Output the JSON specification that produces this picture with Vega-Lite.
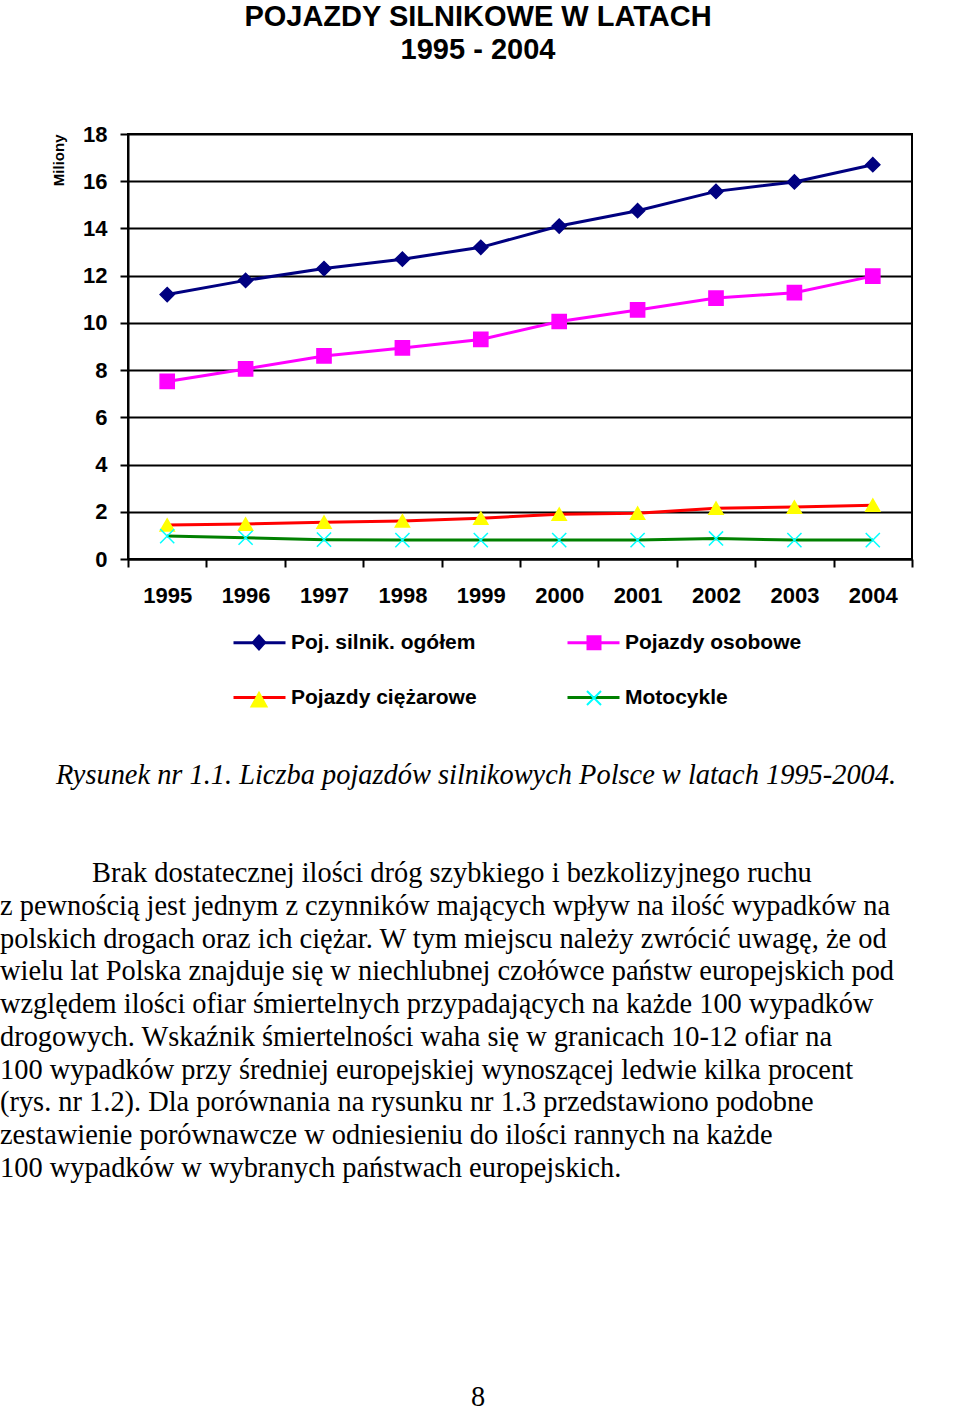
{
  "$schema": "https://vega.github.io/schema/vega-lite/v6.json",
  "padding": {"left": 0, "right": 0, "top": 2, "bottom": 0},
  "background": "white",
  "config": {"view": {"stroke": null}, "font": "Liberation Sans"},
  "spacing": 49,
  "datasets": {
    "vehicles": [
      {"year": 1995, "series": "Poj. silnik. ogółem", "value": 11.2},
      {"year": 1996, "series": "Poj. silnik. ogółem", "value": 11.8},
      {"year": 1997, "series": "Poj. silnik. ogółem", "value": 12.3},
      {"year": 1998, "series": "Poj. silnik. ogółem", "value": 12.7},
      {"year": 1999, "series": "Poj. silnik. ogółem", "value": 13.2},
      {"year": 2000, "series": "Poj. silnik. ogółem", "value": 14.1},
      {"year": 2001, "series": "Poj. silnik. ogółem", "value": 14.75},
      {"year": 2002, "series": "Poj. silnik. ogółem", "value": 15.57},
      {"year": 2003, "series": "Poj. silnik. ogółem", "value": 15.97},
      {"year": 2004, "series": "Poj. silnik. ogółem", "value": 16.7},
      {"year": 1995, "series": "Pojazdy osobowe", "value": 7.52},
      {"year": 1996, "series": "Pojazdy osobowe", "value": 8.05},
      {"year": 1997, "series": "Pojazdy osobowe", "value": 8.6},
      {"year": 1998, "series": "Pojazdy osobowe", "value": 8.94},
      {"year": 1999, "series": "Pojazdy osobowe", "value": 9.3},
      {"year": 2000, "series": "Pojazdy osobowe", "value": 10.06},
      {"year": 2001, "series": "Pojazdy osobowe", "value": 10.55},
      {"year": 2002, "series": "Pojazdy osobowe", "value": 11.05},
      {"year": 2003, "series": "Pojazdy osobowe", "value": 11.28},
      {"year": 2004, "series": "Pojazdy osobowe", "value": 11.98},
      {"year": 1995, "series": "Pojazdy ciężarowe", "value": 1.44},
      {"year": 1996, "series": "Pojazdy ciężarowe", "value": 1.48},
      {"year": 1997, "series": "Pojazdy ciężarowe", "value": 1.56},
      {"year": 1998, "series": "Pojazdy ciężarowe", "value": 1.61},
      {"year": 1999, "series": "Pojazdy ciężarowe", "value": 1.73},
      {"year": 2000, "series": "Pojazdy ciężarowe", "value": 1.9},
      {"year": 2001, "series": "Pojazdy ciężarowe", "value": 1.94},
      {"year": 2002, "series": "Pojazdy ciężarowe", "value": 2.15},
      {"year": 2003, "series": "Pojazdy ciężarowe", "value": 2.2},
      {"year": 2004, "series": "Pojazdy ciężarowe", "value": 2.28},
      {"year": 1995, "series": "Motocykle", "value": 0.97},
      {"year": 1996, "series": "Motocykle", "value": 0.9},
      {"year": 1997, "series": "Motocykle", "value": 0.82},
      {"year": 1998, "series": "Motocykle", "value": 0.8},
      {"year": 1999, "series": "Motocykle", "value": 0.8},
      {"year": 2000, "series": "Motocykle", "value": 0.8},
      {"year": 2001, "series": "Motocykle", "value": 0.8},
      {"year": 2002, "series": "Motocykle", "value": 0.87},
      {"year": 2003, "series": "Motocykle", "value": 0.8},
      {"year": 2004, "series": "Motocykle", "value": 0.8}
    ],
    "page": [
      {"row": 0, "kind": "caption", "text": "Rysunek nr 1.1. Liczba pojazdów silnikowych Polsce w latach 1995-2004."},
      {"row": 3, "kind": "paraFirst", "text": "Brak dostatecznej ilości dróg szybkiego i bezkolizyjnego ruchu"},
      {"row": 4, "kind": "para", "text": "z pewnością jest jednym z czynników mających wpływ na ilość wypadków na"},
      {"row": 5, "kind": "para", "text": "polskich drogach oraz ich ciężar. W tym miejscu należy zwrócić uwagę, że od"},
      {"row": 6, "kind": "para", "text": "wielu lat Polska znajduje się w niechlubnej czołówce państw europejskich pod"},
      {"row": 7, "kind": "para", "text": "względem ilości ofiar śmiertelnych przypadających na każde 100 wypadków"},
      {"row": 8, "kind": "para", "text": "drogowych. Wskaźnik śmiertelności waha się w granicach 10-12 ofiar na"},
      {"row": 9, "kind": "para", "text": "100 wypadków przy średniej europejskiej wynoszącej ledwie kilka procent"},
      {"row": 10, "kind": "para", "text": "(rys. nr 1.2). Dla porównania na rysunku nr 1.3 przedstawiono podobne"},
      {"row": 11, "kind": "para", "text": "zestawienie porównawcze w odniesieniu do ilości rannych na każde"},
      {"row": 12, "kind": "para", "text": "100 wypadków w wybranych państwach europejskich."},
      {"row": 19, "kind": "pagenum", "text": "8"}
    ]
  },
  "vconcat": [
    {
      "width": 784,
      "height": 425,
      "view": {"stroke": "black", "strokeWidth": 2},
      "title": {
        "text": ["POJAZDY SILNIKOWE W LATACH", "1995 - 2004"],
        "font": "Liberation Sans",
        "fontSize": 29,
        "fontWeight": "bold",
        "color": "black",
        "lineHeight": 33,
        "anchor": "middle",
        "frame": "group",
        "dx": -42,
        "offset": 58
      },
      "data": {"name": "vehicles"},
      "encoding": {
        "x": {
          "field": "year",
          "type": "ordinal",
          "scale": {"type": "band", "paddingInner": 0, "paddingOuter": 0},
          "axis": {
            "title": null,
            "labelAngle": 0,
            "tickBand": "extent",
            "labelFont": "Liberation Sans",
            "labelFontSize": 22,
            "labelFontWeight": "bold",
            "labelColor": "black",
            "labelPadding": 18,
            "tickSize": 8,
            "tickColor": "black",
            "tickWidth": 2,
            "domainColor": "black",
            "domainWidth": 2,
            "grid": false
          }
        },
        "y": {
          "field": "value",
          "type": "quantitative",
          "scale": {"domain": [0, 18], "nice": false},
          "axis": {
            "title": "Miliony",
            "titleFont": "Liberation Sans",
            "titleFontSize": 15,
            "titleFontWeight": "bold",
            "titleColor": "black",
            "titleAnchor": "end",
            "titlePadding": 16,
            "values": [0, 2, 4, 6, 8, 10, 12, 14, 16, 18],
            "labelFont": "Liberation Sans",
            "labelFontSize": 22,
            "labelFontWeight": "bold",
            "labelColor": "black",
            "labelPadding": 13,
            "tickSize": 8,
            "tickColor": "black",
            "tickWidth": 2,
            "domainColor": "black",
            "domainWidth": 2,
            "grid": true,
            "gridColor": "black",
            "gridWidth": 2,
            "gridOpacity": 1
          }
        }
      },
      "layer": [
        {
          "mark": {"type": "line", "strokeWidth": 3},
          "encoding": {
            "stroke": {
              "field": "series",
              "type": "nominal",
              "scale": {"domain": ["Poj. silnik. ogółem", "Pojazdy ciężarowe", "Pojazdy osobowe", "Motocykle"], "range": ["#000080", "#FF0000", "#FF00FF", "#008000"]},
              "legend": null
            }
          }
        },
        {
          "mark": {"type": "point", "filled": true, "strokeWidth": 1.5, "size": 200, "opacity": 1},
          "encoding": {
            "shape": {
              "field": "series",
              "type": "nominal",
              "scale": {"domain": ["Poj. silnik. ogółem", "Pojazdy ciężarowe", "Pojazdy osobowe", "Motocykle"], "range": ["diamond", "triangle-up", "square", "M-1,-1L1,1M-1,1L1,-1"]},
              "legend": null
            },
            "fill": {
              "field": "series",
              "type": "nominal",
              "scale": {"domain": ["Poj. silnik. ogółem", "Pojazdy ciężarowe", "Pojazdy osobowe", "Motocykle"], "range": ["#000080", "#FFFF00", "#FF00FF", "#00FFFF"]},
              "legend": null
            },
            "stroke": {
              "field": "series",
              "type": "nominal",
              "scale": {"domain": ["Poj. silnik. ogółem", "Pojazdy ciężarowe", "Pojazdy osobowe", "Motocykle"], "range": ["#000080", "#FFFF00", "#FF00FF", "#00FFFF"]},
              "legend": null
            }
          }
        },
        {
          "mark": {"type": "point", "filled": false, "opacity": 0},
          "encoding": {
            "shape": {
              "field": "series",
              "type": "nominal",
              "scale": {"domain": ["Poj. silnik. ogółem", "Pojazdy ciężarowe", "Pojazdy osobowe", "Motocykle"], "range": ["M-1,0L1,0", "M-1,0L1,0", "M-1,0L1,0", "M-1,0L1,0"]},
              "legend": {"title": null, "orient": "none", "legendX": 104, "legendY": 481, "columns": 2, "symbolSize": 2704, "symbolStrokeWidth": 3, "symbolOpacity": 1, "labelFont": "Liberation Sans", "labelFontSize": 21, "labelFontWeight": "bold", "labelColor": "black", "labelOffset": 4, "labelLimit": 400, "columnPadding": 84, "rowPadding": 17, "padding": 0}
            },
            "stroke": {
              "field": "series",
              "type": "nominal",
              "scale": {"domain": ["Poj. silnik. ogółem", "Pojazdy ciężarowe", "Pojazdy osobowe", "Motocykle"], "range": ["#000080", "#FF0000", "#FF00FF", "#008000"]},
              "legend": {"title": null, "orient": "none", "legendX": 104, "legendY": 481, "columns": 2, "symbolSize": 2704, "symbolStrokeWidth": 3, "symbolOpacity": 1, "labelFont": "Liberation Sans", "labelFontSize": 21, "labelFontWeight": "bold", "labelColor": "black", "labelOffset": 4, "labelLimit": 400, "columnPadding": 84, "rowPadding": 17, "padding": 0}
            }
          }
        },
        {
          "mark": {"type": "point", "filled": true, "opacity": 0},
          "encoding": {
            "shape": {
              "field": "series",
              "type": "nominal",
              "scale": {"domain": ["Poj. silnik. ogółem", "Pojazdy ciężarowe", "Pojazdy osobowe", "Motocykle"], "range": ["M0,-0.27L0.24,0L0,0.27L-0.24,0Z", "M0,-0.2L0.29,0.33L-0.29,0.33Z", "M-0.25,-0.25L0.25,-0.25L0.25,0.25L-0.25,0.25Z", "M-0.27,-0.27L0.27,0.27M-0.27,0.27L0.27,-0.27"]},
              "legend": {"title": null, "orient": "none", "legendX": 104, "legendY": 481, "columns": 2, "symbolSize": 2704, "symbolStrokeWidth": 2, "symbolOpacity": 1, "labelFont": "Liberation Sans", "labelFontSize": 21, "labelFontWeight": "bold", "labelExpr": "''", "labelOffset": 0, "columnPadding": 281, "rowPadding": 17, "padding": 0}
            },
            "fill": {
              "field": "series",
              "type": "nominal",
              "scale": {"domain": ["Poj. silnik. ogółem", "Pojazdy ciężarowe", "Pojazdy osobowe", "Motocykle"], "range": ["#000080", "#FFFF00", "#FF00FF", "#00FFFF"]},
              "legend": {"title": null, "orient": "none", "legendX": 104, "legendY": 481, "columns": 2, "symbolSize": 2704, "symbolStrokeWidth": 2, "symbolOpacity": 1, "labelFont": "Liberation Sans", "labelFontSize": 21, "labelFontWeight": "bold", "labelExpr": "''", "labelOffset": 0, "columnPadding": 281, "rowPadding": 17, "padding": 0}
            },
            "stroke": {
              "field": "series",
              "type": "nominal",
              "scale": {"domain": ["Poj. silnik. ogółem", "Pojazdy ciężarowe", "Pojazdy osobowe", "Motocykle"], "range": ["#000080", "#FFFF00", "#FF00FF", "#00FFFF"]},
              "legend": {"title": null, "orient": "none", "legendX": 104, "legendY": 481, "columns": 2, "symbolSize": 2704, "symbolStrokeWidth": 2, "symbolOpacity": 1, "labelFont": "Liberation Sans", "labelFontSize": 21, "labelFontWeight": "bold", "labelExpr": "''", "labelOffset": 0, "columnPadding": 281, "rowPadding": 17, "padding": 0}
            }
          }
        }
      ],
      "resolve": {"scale": {"stroke": "independent", "fill": "independent", "shape": "independent"}}
    },
    {
      "width": 832,
      "height": 622,
      "view": {"stroke": null},
      "data": {"name": "page"},
      "encoding": {
        "y": {"field": "row", "type": "quantitative", "scale": {"domain": [0, 19], "reverse": true, "nice": false, "zero": false}, "axis": null},
        "text": {"field": "text"}
      },
      "layer": [
        {
          "transform": [{"filter": "datum.kind === 'caption'"}],
          "mark": {"type": "text", "align": "left", "baseline": "alphabetic", "font": "Liberation Serif", "fontSize": 28.4, "fontStyle": "italic", "color": "black", "dx": 56},
          "encoding": {
            "x": {"datum": 0, "type": "quantitative", "scale": {"domain": [0, 1], "range": [-128, 832], "nice": false, "zero": false}, "axis": null}
          }
        },
        {
          "transform": [{"filter": "datum.kind === 'paraFirst'"}],
          "mark": {"type": "text", "align": "left", "baseline": "alphabetic", "font": "Liberation Serif", "fontSize": 28.4, "color": "black", "dx": 92},
          "encoding": {"x": {"datum": 0, "type": "quantitative"}}
        },
        {
          "transform": [{"filter": "datum.kind === 'para'"}],
          "mark": {"type": "text", "align": "left", "baseline": "alphabetic", "font": "Liberation Serif", "fontSize": 28.4, "color": "black"},
          "encoding": {"x": {"datum": 0, "type": "quantitative"}}
        },
        {
          "transform": [{"filter": "datum.kind === 'pagenum'"}],
          "mark": {"type": "text", "align": "center", "baseline": "alphabetic", "font": "Liberation Serif", "fontSize": 28.4, "color": "black"},
          "encoding": {"x": {"datum": 0.4979, "type": "quantitative"}}
        }
      ]
    }
  ]
}
